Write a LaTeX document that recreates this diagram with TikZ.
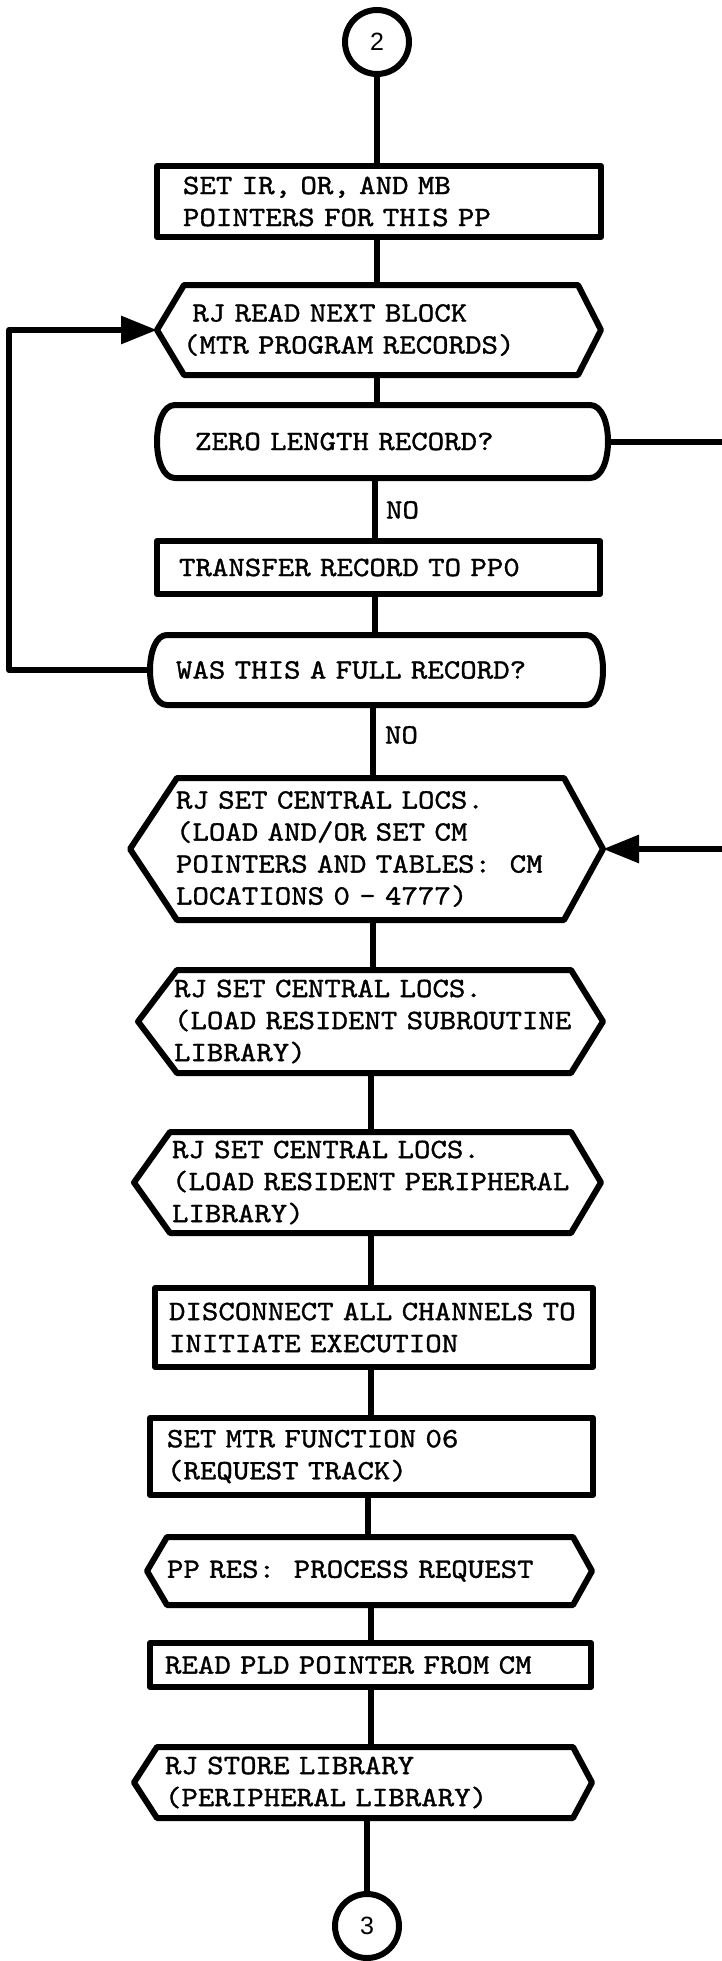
\documentclass[tikz,border=0pt]{standalone}
\usepackage{fontspec}
\usetikzlibrary{arrows.meta}
\newfontfamily\typewriter{lmmono10-regular.otf}[FakeStretch=1.12,FakeBold=1.2]
\newfontfamily\digitfont{Liberation Sans}

% hexagonal outline around a named node: #2 left inset, #3 right inset
\newcommand\hexline[3]{%
  \draw ([xshift=#2]#1.north west) -- ([xshift=-#3]#1.north east) -- (#1.east)
    -- ([xshift=-#3]#1.south east) -- ([xshift=#2]#1.south west) -- (#1.west) -- cycle;}
% decision outline with bulging ends: #2 depth of the bulge
\newcommand\bulgeline[2]{%
  \draw ([xshift=#2]#1.north west) -- ([xshift=-#2]#1.north east)
    .. controls ([xshift=#2/3]#1.north east) and ([xshift=#2/3]#1.south east) .. ([xshift=-#2]#1.south east)
    -- ([xshift=#2]#1.south west)
    .. controls ([xshift=-#2/3]#1.south west) and ([xshift=-#2/3]#1.north west) .. ([xshift=#2]#1.north west) -- cycle;}

\begin{document}
\begin{tikzpicture}[x=1pt,y=-1pt,
  line width=6pt, line join=round,
  every node/.style={font=\typewriter\fontsize{28}{32}\selectfont\frenchspacing},
  rectbox/.style={draw, rectangle, align=left, inner ysep=0pt},
  hexbox/.style={rectangle, align=left, inner ysep=0pt},
  connect/.style={draw, circle, inner sep=0pt, minimum size=64pt,
    font=\digitfont\fontsize{25}{25}\selectfont},
  label/.style={anchor=west, inner sep=0pt},
  into/.style={-{Triangle[length=36pt,width=27pt]}}]

\useasboundingbox (0,0) rectangle (722,1961);
\fill[white] (0,0) rectangle (722,1961);
\clip (0,0) rectangle (722,1961);

% entry connector
\node[connect] (c2) at (377,42) {2};

\node[rectbox, minimum width=444pt, minimum height=71pt, inner xsep=26pt, text width=392pt]
  (box1) at (379,201.5) {\mbox{SET IR, OR, AND MB}\\\mbox{POINTERS FOR THIS PP}};

\node[hexbox, minimum width=438pt, minimum height=84pt, inner xsep=23pt, text width=392pt]
  (hex1) at (379,330) {\mbox{~RJ READ NEXT BLOCK}\\\mbox{(MTR PROGRAM RECORDS)}};
\hexline{hex1}{27pt}{23pt}

\node[hexbox, minimum width=445pt, minimum height=67pt, inner xsep=35pt, text width=375pt]
  (zero) at (382.5,441.5) {\mbox{ZERO LENGTH RECORD?}};
\bulgeline{zero}{18pt}

\node[label] (no1) at (383,510) {NO};

\node[rectbox, minimum width=443pt, minimum height=53pt, inner xsep=22pt, text width=399pt]
  (xfer) at (378.5,567.5) {\mbox{TRANSFER RECORD TO PP0}};

\node[hexbox, minimum width=447pt, minimum height=64pt, inner xsep=23pt, text width=401pt]
  (full) at (376.5,670) {\mbox{WAS THIS A FULL RECORD?}};
\bulgeline{full}{17pt}

\node[label] (no2) at (382,735) {NO};

\node[hexbox, minimum width=467pt, minimum height=136pt, inner xsep=43pt, text width=381pt]
  (setc1) at (366.5,849) {\mbox{RJ SET CENTRAL LOCS.}\\\mbox{(LOAD AND/OR SET CM}\\
    \mbox{POINTERS AND TABLES:~~CM}\\\mbox{LOCATIONS 0 - 4777)}};
\hexline{setc1}{47pt}{39pt}

\node[hexbox, minimum width=459pt, minimum height=97pt, inner xsep=33pt, text width=393pt]
  (setc2) at (370.5,1021.5) {\mbox{RJ SET CENTRAL LOCS.}\\\mbox{(LOAD RESIDENT SUBROUTINE}\\\mbox{LIBRARY)}};
\hexline{setc2}{39pt}{32pt}

\node[hexbox, minimum width=461pt, minimum height=95pt, inner xsep=35pt, text width=391pt]
  (setc3) at (367.5,1182.5) {\mbox{RJ SET CENTRAL LOCS.}\\\mbox{(LOAD RESIDENT PERIPHERAL}\\\mbox{LIBRARY)}};
\hexline{setc3}{36pt}{30pt}

\node[rectbox, minimum width=438pt, minimum height=79pt, inner xsep=14pt, text width=410pt]
  (disc) at (374,1327.5) {\mbox{DISCONNECT ALL CHANNELS TO}\\\mbox{INITIATE EXECUTION}};

\node[rectbox, minimum width=443pt, minimum height=77pt, inner xsep=17pt, text width=409pt]
  (mtr) at (371.5,1456.5) {\mbox{SET MTR FUNCTION 06}\\\mbox{(REQUEST TRACK)}};

\node[hexbox, minimum width=439pt, minimum height=62pt, inner xsep=17pt, text width=405pt]
  (ppres) at (369.5,1571) {\mbox{PP RES:~~PROCESS REQUEST}};
\hexline{ppres}{20pt}{19pt}

\node[rectbox, minimum width=441pt, minimum height=44pt, inner xsep=15pt, text width=411pt]
  (pld) at (370.5,1665) {\mbox{READ PLD POINTER FROM CM}};

\node[hexbox, minimum width=452pt, minimum height=65pt, inner xsep=28pt, text width=396pt]
  (store) at (363,1782.5) {\mbox{RJ STORE LIBRARY}\\\mbox{(PERIPHERAL LIBRARY)}};
\hexline{store}{23pt}{19pt}

% exit connector
\node[connect] (c3) at (367,1926) {3};

% main flow
\draw (c2.south) -- (c2.south |- box1.north);
\draw ([xshift=-2pt]box1.south) -- ([xshift=-2pt]box1.south |- hex1.north);
\draw ([xshift=-2pt]hex1.south) -- ([xshift=-2pt]hex1.south |- zero.north);
\draw ([xshift=-7.5pt]zero.south) -- ([xshift=-7.5pt]zero.south |- xfer.north);
\draw ([xshift=-3.5pt]xfer.south) -- ([xshift=-3.5pt]xfer.south |- full.north);
\draw ([xshift=-3.5pt]full.south) -- ([xshift=-3.5pt]full.south |- setc1.north);
\draw ([xshift=6.5pt]setc1.south) -- ([xshift=6.5pt]setc1.south |- setc2.north);
\draw (setc2.south) -- (setc2.south |- setc3.north);
\draw ([xshift=3.5pt]setc3.south) -- ([xshift=3.5pt]setc3.south |- disc.north);
\draw ([xshift=-3pt]disc.south) -- ([xshift=-3pt]disc.south |- mtr.north);
\draw ([xshift=-3.5pt]mtr.south) -- ([xshift=-3.5pt]mtr.south |- ppres.north);
\draw ([xshift=1.5pt]ppres.south) -- ([xshift=1.5pt]ppres.south |- pld.north);
\draw (pld.south) -- (pld.south |- store.north);
\draw (c3.north) -- (c3.north |- store.south);

% loop back for a full record
\draw[into] (full.west) -- ++(-141pt,0) |- (hex1.west);

% zero length record branch
\coordinate (rturn) at (732,0);
\draw[into] (zero.east) -- (zero.east -| rturn) |- (setc1.east);

\end{tikzpicture}
\end{document}
